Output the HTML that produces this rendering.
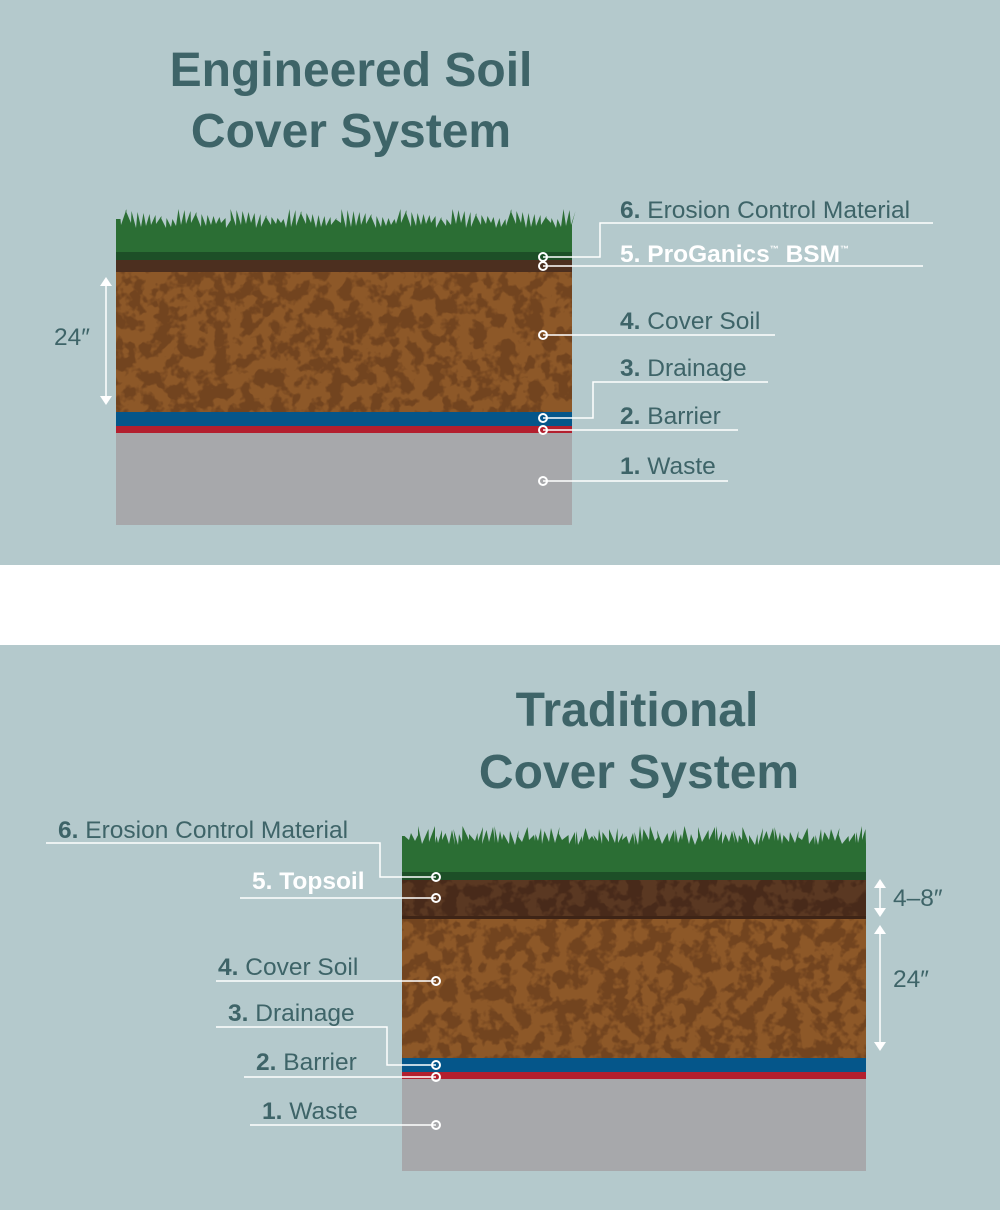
<!DOCTYPE html>
<html><head><meta charset="utf-8"><style>
html,body{margin:0;padding:0}
body{width:1000px;height:1210px;position:relative;background:#fff;font-family:"Liberation Sans",sans-serif;overflow:hidden}
</style></head><body>
<svg width="1000" height="1210" viewBox="0 0 1000 1210" xmlns="http://www.w3.org/2000/svg" style="position:absolute;left:0;top:0">
<defs>
<filter id="mottle" x="0" y="0" width="100%" height="100%" color-interpolation-filters="sRGB">
<feTurbulence type="fractalNoise" baseFrequency="0.07" numOctaves="3" seed="4" result="n"/>
<feColorMatrix in="n" type="matrix" values="0 0 0 0 0  0 0 0 0 0  0 0 0 0 0  8 0 0 0 -3.6" result="m"/>
<feFlood flood-color="#72441f" result="f"/>
<feComposite in="f" in2="m" operator="in" result="c"/>
<feComposite in="c" in2="SourceGraphic" operator="in"/>
</filter>
<filter id="mottle2" x="0" y="0" width="100%" height="100%" color-interpolation-filters="sRGB">
<feTurbulence type="fractalNoise" baseFrequency="0.07" numOctaves="3" seed="9" result="n"/>
<feColorMatrix in="n" type="matrix" values="0 0 0 0 0  0 0 0 0 0  0 0 0 0 0  8 0 0 0 -3.6" result="m"/>
<feFlood flood-color="#482a1a" result="f"/>
<feComposite in="f" in2="m" operator="in" result="c"/>
<feComposite in="c" in2="SourceGraphic" operator="in"/>
</filter>
</defs>
<rect x="0" y="0" width="1000" height="565" fill="#b4c9cc"/>
<rect x="0" y="645" width="1000" height="565" fill="#b4c9cc"/>

<g font-family="Liberation Sans, sans-serif" font-weight="bold" fill="#3e6468" font-size="48" text-anchor="middle">
<text x="351" y="86">Engineered Soil</text>
<text x="351" y="147">Cover System</text>
<text x="637" y="726">Traditional</text>
<text x="639" y="788">Cover System</text>
</g>

<g id="top">
<rect x="116" y="235" width="456" height="18" fill="#2b6e34"/>
<path id="g1" fill="#2b6e34"/>
<rect x="116" y="252" width="456" height="8" fill="#1d4f27"/>
<rect x="116" y="260" width="456" height="12" fill="#4c2f1f"/>
<rect x="116" y="272" width="456" height="140" fill="#8d5828"/>
<rect x="116" y="272" width="456" height="140" fill="#fff" filter="url(#mottle)"/>
<rect x="116" y="412" width="456" height="14" fill="#05568a"/>
<rect x="116" y="426" width="456" height="7" fill="#b31f2e"/>
<rect x="116" y="433" width="456" height="92" fill="#a7a8ab"/>
</g>
<g id="bot">
<rect x="402" y="850" width="464" height="23" fill="#2b6e34"/>
<path id="g2" fill="#2b6e34"/>
<rect x="402" y="872" width="464" height="8" fill="#1d4f27"/>
<rect x="402" y="880" width="464" height="38" fill="#5a3822"/>
<rect x="402" y="880" width="464" height="38" fill="#fff" filter="url(#mottle2)"/>
<rect x="402" y="916" width="464" height="3" fill="#3e2416"/>
<rect x="402" y="919" width="464" height="139" fill="#8d5828"/>
<rect x="402" y="919" width="464" height="139" fill="#fff" filter="url(#mottle)"/>
<rect x="402" y="1058" width="464" height="14" fill="#05568a"/>
<rect x="402" y="1072" width="464" height="7" fill="#b31f2e"/>
<rect x="402" y="1079" width="464" height="92" fill="#a7a8ab"/>
</g>

<g stroke="#fff" stroke-width="1.5" fill="none">
<polyline points="543,257 600,257 600,223 933,223"/>
<line x1="543" y1="266" x2="923" y2="266"/>
<line x1="543" y1="335" x2="775" y2="335"/>
<polyline points="543,418 593,418 593,382 768,382"/>
<line x1="543" y1="430" x2="738" y2="430"/>
<line x1="543" y1="481" x2="728" y2="481"/>
<polyline points="436,877 380,877 380,843 46,843"/>
<line x1="436" y1="898" x2="240" y2="898"/>
<line x1="436" y1="981" x2="216" y2="981"/>
<polyline points="436,1065 387,1065 387,1027 216,1027"/>
<line x1="436" y1="1077" x2="244" y2="1077"/>
<line x1="436" y1="1125" x2="250" y2="1125"/>
<line x1="106" y1="284" x2="106" y2="398"/>
<line x1="880" y1="886" x2="880" y2="910"/>
<line x1="880" y1="932" x2="880" y2="1044"/>
</g>
<g fill="#fff">
<polygon points="100,286 112,286 106,277"/><polygon points="100,396 112,396 106,405"/>
<polygon points="874,888 886,888 880,879"/><polygon points="874,908 886,908 880,917"/>
<polygon points="874,934 886,934 880,925"/><polygon points="874,1042 886,1042 880,1051"/>
</g>
<g stroke="#fff" stroke-width="2" fill="none">
<circle cx="543" cy="257" r="4"/><circle cx="543" cy="266" r="4"/><circle cx="543" cy="335" r="4"/>
<circle cx="543" cy="418" r="4"/><circle cx="543" cy="430" r="4"/><circle cx="543" cy="481" r="4"/>
<circle cx="436" cy="877" r="4"/><circle cx="436" cy="898" r="4"/><circle cx="436" cy="981" r="4"/>
<circle cx="436" cy="1065" r="4"/><circle cx="436" cy="1077" r="4"/><circle cx="436" cy="1125" r="4"/>
</g>

<g font-family="Liberation Sans, sans-serif" font-size="24.5" fill="#3e6468">
<text x="620" y="218"><tspan font-weight="bold">6.</tspan> Erosion Control Material</text>
<text x="620" y="262" fill="#fff" font-weight="bold">5. ProGanics<tspan font-size="9" dy="-10">™</tspan><tspan dy="10"> BSM</tspan><tspan font-size="9" dy="-10">™</tspan></text>
<text x="620" y="329"><tspan font-weight="bold">4.</tspan> Cover Soil</text>
<text x="620" y="376"><tspan font-weight="bold">3.</tspan> Drainage</text>
<text x="620" y="424"><tspan font-weight="bold">2.</tspan> Barrier</text>
<text x="620" y="474"><tspan font-weight="bold">1.</tspan> Waste</text>
<text x="54" y="345">24″</text>
<text x="58" y="838"><tspan font-weight="bold">6.</tspan> Erosion Control Material</text>
<text x="252" y="889" fill="#fff" font-weight="bold">5. Topsoil</text>
<text x="218" y="975"><tspan font-weight="bold">4.</tspan> Cover Soil</text>
<text x="228" y="1021"><tspan font-weight="bold">3.</tspan> Drainage</text>
<text x="256" y="1070"><tspan font-weight="bold">2.</tspan> Barrier</text>
<text x="262" y="1119"><tspan font-weight="bold">1.</tspan> Waste</text>
<text x="893" y="906">4–8″</text>
<text x="893" y="987">24″</text>
</g>
</svg>
<script>
function grass(x0,x1,base,top){
  var d="M"+x0+","+base+" L"+x0+","+(top+10);
  for(var x=x0;x<x1;){
    var w=3+((x*37)%5);
    var h=top+((x*53)%11);
    var lean=((x*17)%7)-3;
    d+=" L"+(x+w/2+lean)+","+h+" L"+Math.min(x+w,x1)+","+(top+14+((x*7)%6));
    x+=w;
  }
  d+=" L"+x1+","+(top+10)+" L"+x1+","+base+" Z";
  return d;
}
document.getElementById("g1").setAttribute("d",grass(116,572,240,209));
document.getElementById("g2").setAttribute("d",grass(402,866,855,826));
</script>
</body></html>
